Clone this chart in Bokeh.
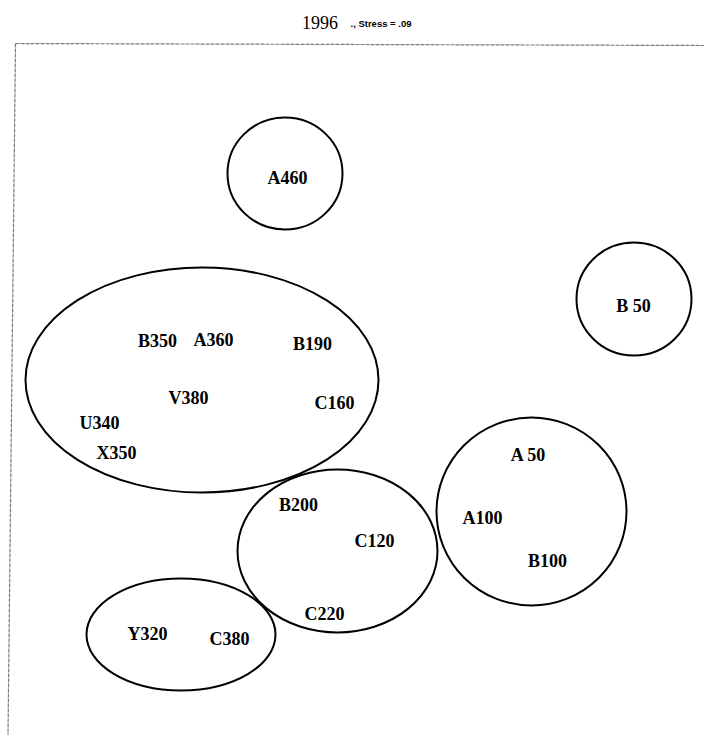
from bokeh.plotting import figure
from bokeh.models import Range1d, ColumnDataSource
from bokeh.core.properties import value
from bokeh.embed import file_html
from bokeh.resources import INLINE

# MDS configuration (pixel-like units)
labels = ["A460", "B 50", "B350", "A360", "B190", "V380", "C160", "U340", "X350",
          "B200", "C120", "C220", "A 50", "A100", "B100", "Y320", "C380"]
label_x = [287, 633, 157, 213, 312, 188, 334, 99, 116, 298, 374, 324, 528, 482, 547, 147, 229]
label_y = [558, 430, 395, 396, 392, 338, 333, 313, 283, 231, 195, 122, 281, 218, 175, 102, 97]

# cluster ellipses
cluster_x = [284.5, 633.5, 201.5, 337, 531, 180.5]
cluster_y = [562, 436.5, 355.5, 184.5, 224, 101]
cluster_w = [115, 115, 353, 200, 190, 189]
cluster_h = [112, 113, 225, 163, 188, 112]

title_year = ["1996"]
title_stress = ["., Stress = .09"]

p = figure(width=704, height=735, output_backend="svg", toolbar_location=None,
           x_range=Range1d(0, 704), y_range=Range1d(0, 735),
           x_axis_type=None, y_axis_type=None,
           min_border_left=0, min_border_right=0, min_border_top=0, min_border_bottom=0)
p.grid.visible = False
p.outline_line_color = None
p.background_fill_color = "white"
p.border_fill_color = "white"

# frame lines (top and left only)
p.segment(x0=[15, 15], y0=[692, 692], x1=[704, 7.5], y1=[690, 0],
          line_color="#7a7a7a", line_width=1.2, line_dash="4 1")

src_e = ColumnDataSource(dict(x=cluster_x, y=cluster_y, w=cluster_w, h=cluster_h))
p.ellipse(x="x", y="y", width="w", height="h", source=src_e,
          fill_color=None, line_color="black", line_width=2)

src_t = ColumnDataSource(dict(x=label_x, y=label_y, t=labels))
p.text(x="x", y="y", text="t", source=src_t, text_font=value("Liberation Serif"),
       text_font_size="18px", text_font_style="bold", text_align="center",
       text_baseline="middle", text_color="black")

p.text(x=[319.5], y=[713], text=title_year, text_font=value("Liberation Serif"),
       text_font_size="18px", text_align="center",
       text_baseline="middle", text_color="black")
p.text(x=[350], y=[712], text=title_stress, text_font=value("Liberation Sans"),
       text_font_size="9.5px", text_font_style="bold", text_align="left",
       text_baseline="middle", text_color="black")

open("out.html", "w").write(file_html(p, INLINE))
